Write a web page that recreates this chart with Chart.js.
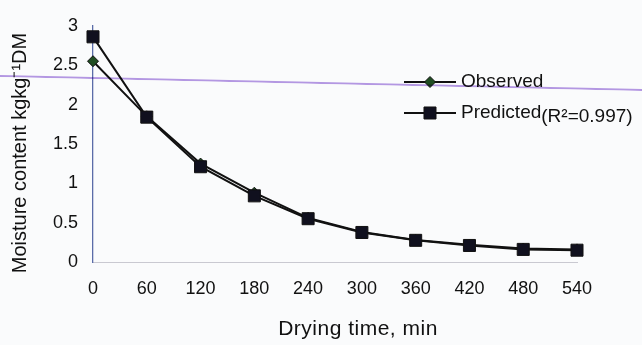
<!DOCTYPE html>
<html>
<head>
<meta charset="utf-8">
<script src="https://cdn.jsdelivr.net/npm/chart.js@4.4.1/dist/chart.umd.min.js"></script>
<style>
  html, body { margin:0; padding:0; background:#fafbfc; }
  #wrap { position:relative; width:642px; height:345px; overflow:hidden; }
  #c { position:absolute; left:0; top:0; }
  /* highlighter stroke that runs across the scanned page */
  #mark { position:absolute; left:0; top:75px; width:650px; height:2px;
          background:rgba(170,135,225,.85); transform-origin:0 0; transform:rotate(1.25deg);
          mix-blend-mode:multiply; }
</style>
</head>
<body>
<div id="wrap">
  <canvas id="c" width="642" height="345"></canvas>
  <div id="mark"></div>
</div>
<script>
// --- data ---
const times     = ['0','60','120','180','240','300','360','420','480','540']; // min
const observed  = [2.55, 1.85, 1.25, 0.88, 0.56, 0.38, 0.28, 0.22, 0.17, 0.16];
const predicted = [2.86, 1.84, 1.21, 0.84, 0.55, 0.375, 0.275, 0.21, 0.16, 0.15];
const fitNote   = '(R²=0.997)';
const xTitle    = 'Drying time, min';
const yTitle    = 'Moisture content kgkg⁻¹DM';

const FONT = "'Liberation Sans', Arial, sans-serif";
const INK = '#111';

// legend + axis captions drawn by hand (the R² note sits a bit below the label,
// captions are off-centre in the original)
const extras = {
  id:'extras',
  afterDraw(chart){
    const ctx = chart.ctx;
    const rows = [82, 113];
    chart.data.datasets.forEach((ds, i) => {
      const y = rows[i];
      ctx.save();
      ctx.strokeStyle = ds.borderColor; ctx.lineWidth = 2;
      ctx.beginPath(); ctx.moveTo(404, y); ctx.lineTo(456, y); ctx.stroke();
      ctx.fillStyle = ds.pointBackgroundColor; ctx.strokeStyle = ds.pointBorderColor; ctx.lineWidth = 1;
      Chart.helpers.drawPoint(ctx, { pointStyle:ds.pointStyle, radius:ds.pointRadius, rotation:0, borderWidth:1 }, 430, y);
      ctx.fillStyle = INK; ctx.font = '19px ' + FONT; ctx.textBaseline = 'middle'; ctx.textAlign = 'left';
      ctx.fillText(ds.label, 461, y);
      if (ds.note){
        const w = ctx.measureText(ds.label).width;
        ctx.fillText(ds.note, 461 + w, y + 4);
      }
      ctx.restore();
    });

    ctx.save();
    ctx.fillStyle = INK; ctx.textAlign = 'center'; ctx.textBaseline = 'middle';
    ctx.font = '21px ' + FONT;
    ctx.letterSpacing = '0.5px';
    ctx.fillText(xTitle, 358, 329);
    ctx.letterSpacing = '0px';
    ctx.font = '20px ' + FONT;
    ctx.translate(20, 153); ctx.rotate(-Math.PI/2);
    ctx.fillText(yTitle, 0, 0);
    ctx.restore();
  }
};

new Chart(document.getElementById('c'), {
  type:'line',
  data:{
    labels: times,
    datasets:[
      { label:'Observed', data:observed, order:1,
        borderColor:INK, borderWidth:2, pointStyle:'rectRot', pointRadius:5.5,
        pointBackgroundColor:'#1f4d22', pointBorderColor:INK, pointBorderWidth:1, tension:0 },
      { label:'Predicted', note:fitNote, data:predicted, order:0,
        borderColor:INK, borderWidth:2, pointStyle:'rect', pointRadius:8.5,
        pointBackgroundColor:'#10101e', pointBorderColor:INK, pointBorderWidth:1, tension:0 }
    ]
  },
  options:{
    responsive:false, animation:false,
    layout:{ padding:{ left:0, right:65, top:22, bottom:0 } },
    plugins:{ legend:{ display:false }, tooltip:{ enabled:false } },
    scales:{
      x:{
        offset:false,
        grid:{ display:true, drawOnChartArea:false, drawTicks:false },
        border:{ display:true, color:'rgba(110,110,130,.35)', dash:[3,12] },
        ticks:{ color:INK, font:{ family:FONT, size:18 }, padding:16, maxRotation:0 },
        afterFit(s){ s.height = 83; }
      },
      y:{
        min:0, max:3,
        grid:{ display:false, drawTicks:false },
        border:{ display:true, color:'#5a6ca8', width:1.3, dash:[2,4] },
        ticks:{ stepSize:0.5, color:INK, font:{ family:FONT, size:18 }, padding:15,
                callback:(v)=> String(v) },
        afterFit(s){ s.width = 93; }
      }
    }
  },
  plugins:[extras]
});
</script>
</body>
</html>
